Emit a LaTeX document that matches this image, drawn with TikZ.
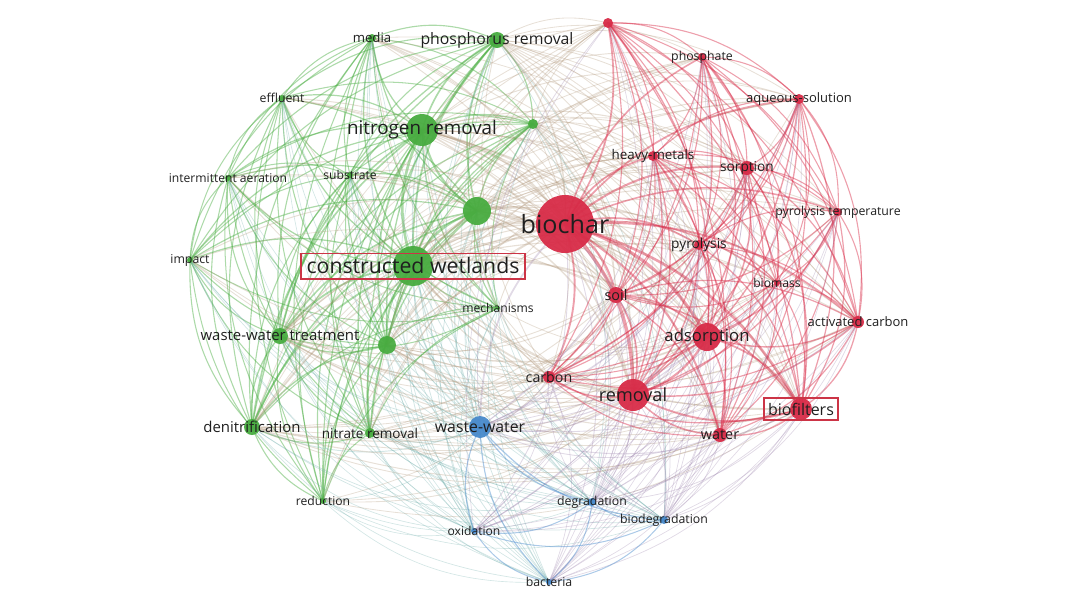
\documentclass[tikz,border=0pt]{standalone}
\usepackage{fontspec}
\setmainfont{Open Sans}
\definecolor{kwred}{RGB}{216,44,72}
\definecolor{kwgreen}{RGB}{72,172,64}
\definecolor{kwblue}{RGB}{72,138,204}
\definecolor{boxred}{RGB}{204,52,70}
\tikzset{
  kwdot/.style={circle,inner sep=0pt,fill opacity=0.95},
  kwlabel/.style={inner sep=0pt,text=black!88},
  kwedge/.style={draw opacity=0.45,line cap=round},
  kwcross/.style={draw opacity=0.3,line cap=round},
  hilite/.style={draw=boxred,line width=1.1pt}
}
% name/x/y/radius/colour/font size/label (pixels)
\def\kwlist{media/372/38/4/kwgreen/7.5/media,
phosrem/497/40/8/kwgreen/9/phosphorus removal,
effluent/282/98/3/kwgreen/7/effluent,
nitrem/422/130/16/kwgreen/10.7/nitrogen removal,
gdot1/533/124/5/kwgreen/7/{},
intaer/228/178/3/kwgreen/6.9/intermittent aeration,
substrate/350/175/3/kwgreen/6.9/substrate,
gdot2/477/211/14/kwgreen/7/{},
impact/190/260/3/kwgreen/7/impact,
cwetlands/413/266/20/kwgreen/12.1/constructed wetlands,
wwtreat/280/336/8/kwgreen/8.5/waste-water treatment,
gdot3/387/345/9/kwgreen/7/{},
mechanisms/498/308/2/kwgreen/6.9/mechanisms,
denitr/252/427/8/kwgreen/8.5/denitrification,
nitrate/370/433/5/kwgreen/7.7/nitrate removal,
reduction/323/501/3/kwgreen/6.9/reduction,
biochar/565/224/29/kwred/14.3/biochar,
rdot1/608/23/5/kwred/7/{},
phosphate/702/57/4/kwred/7/phosphate,
aqueous/799/99/5/kwred/7.4/aqueous-solution,
heavymet/653/156/5/kwred/7.6/heavy-metals,
sorption/747/168/7/kwred/7.8/sorption,
pyrotemp/838/212/4/kwred/7/pyrolysis temperature,
pyrolysis/699/245/5/kwred/7.8/pyrolysis,
biomass/777/283/3/kwred/6.9/biomass,
soil/616/295/8/kwred/8.2/soil,
adsorption/707/337/14/kwred/9.5/adsorption,
actcarbon/858/322/6/kwred/7.4/activated carbon,
carbon/549/377/6/kwred/8.1/carbon,
removal/633/395/16/kwred/10.3/removal,
biofilters/801/409/11/kwred/9.1/biofilters,
water/720/435/7/kwred/8.2/water,
wastewater/480/427/11/kwblue/9/waste-water,
degradation/592/502/4/kwblue/7/degradation,
biodegr/664/520/4/kwblue/7/biodegradation,
oxidation/474/531/3/kwblue/6.9/oxidation,
bacteria/549/582/3/kwblue/7/bacteria}
\def\kwblu{kwblue}
\begin{document}
\begin{tikzpicture}[x=0.02cm,y=-0.02cm]
\useasboundingbox (0,0) rectangle (1080,593);
\foreach \n/\x/\y/\r/\c/\f/\t in \kwlist
  \coordinate (\n) at (\x,\y);
% links, bent away from the middle
\foreach[count=\i] \a/\ax/\ay/\ra/\ca/\fa/\ta in \kwlist {
  \foreach[count=\j] \b/\bx/\by/\rb/\cb/\fb/\tb in \kwlist {
    \ifnum\j>\i
      \pgfmathsetmacro\bendang{((\ax-540)/100)*((\by-300)/100)-((\ay-300)/100)*((\bx-540)/100)>0 ? 22 : -22}
      \edef\cla{\ca}\edef\clb{\cb}
      \ifx\cla\clb
        \pgfmathsetmacro\lw{0.55+0.003*\ra*\rb}
        \draw[kwedge,draw=\ca,line width=\lw pt] (\a) to[bend left=\bendang] (\b);
      \else
        \pgfmathtruncatemacro\keep{\ra*\rb>=24 ? 1 : 0}
        \ifx\clb\kwblu \def\keep{2}\fi
        \ifnum\keep=1
          \pgfmathsetmacro\lw{0.4+0.002*\ra*\rb}
          \draw[kwcross,draw=\ca!50!\cb!70!white,line width=\lw pt] (\a) to[bend left=\bendang] (\b);
        \fi
        \ifnum\keep=2
          \pgfmathsetmacro\lw{0.35+0.002*\ra*\rb}
          \draw[kwcross,draw=\cb!60!\ca!80!white,line width=\lw pt] (\a) to[bend left=\bendang] (\b);
        \fi
      \fi
    \fi
  }
}
\foreach \n/\x/\y/\r/\c/\f/\t in \kwlist {
  \node[kwdot,fill=\c,minimum size={\r*0.04cm}] (\n-dot) at (\n) {};
  \node[kwlabel,font=\fontsize{\f}{\f}\selectfont] (\n-text) at (\n) {\t};
}
\draw[hilite] ([shift={(-5,4)}]cwetlands-text.south west) rectangle ([shift={(5,-4)}]cwetlands-text.north east);
\draw[hilite] ([shift={(-4,4)}]biofilters-text.south west) rectangle ([shift={(4,-4)}]biofilters-text.north east);
\end{tikzpicture}
\end{document}
